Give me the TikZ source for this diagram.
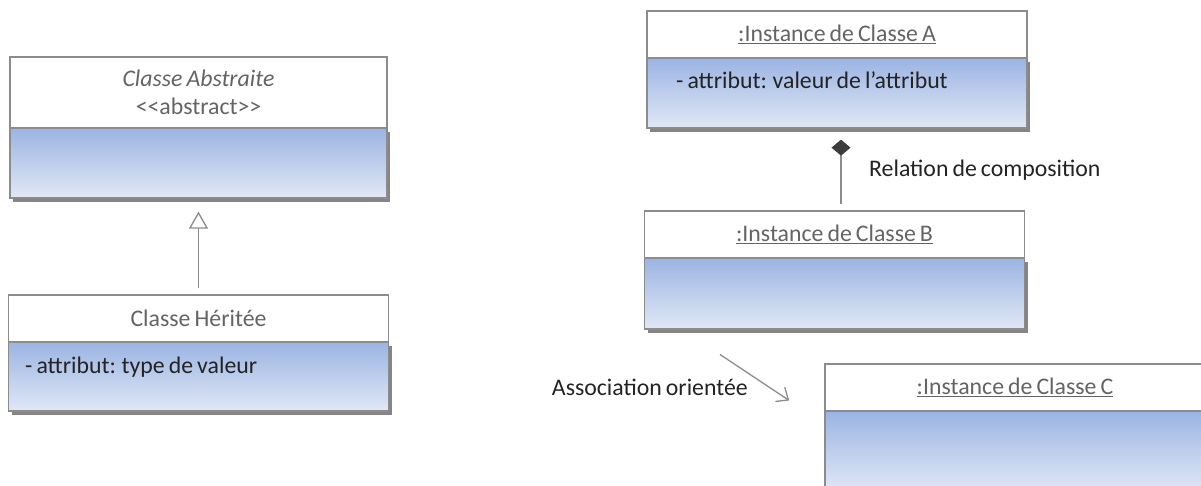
\documentclass[tikz,border=0pt]{standalone}
\usepackage{fontspec}
\setmainfont[WordSpace=0.75]{Carlito}
\usetikzlibrary{shadows,arrows.meta}
\definecolor{umlborder}{RGB}{140,140,140}
\definecolor{umlline}{RGB}{140,140,140}
\definecolor{umlhead}{RGB}{100,100,100}
\definecolor{umltext}{RGB}{35,35,35}
\definecolor{umltop}{RGB}{155,180,227}
\definecolor{umlbot}{RGB}{225,232,246}
\definecolor{umldiam}{RGB}{60,60,60}

\begin{document}
\begin{tikzpicture}[x=1pt, y=-1pt, font=\fontsize{23.8}{28}\selectfont,
  head/.style = {rectangle, draw=umlborder, line width=1.3pt, fill=white, minimum width=380pt, minimum height=47pt, align=center, text=umlhead, inner sep=0pt},
  body/.style = {rectangle, draw=umlborder, line width=1.3pt, top color=umltop, bottom color=umlbot, minimum width=380pt, minimum height=70pt, inner sep=0pt, drop shadow={shadow xshift=3pt, shadow yshift=-3.5pt, opacity=0.6, fill=black!80}},
  attr/.style = {anchor=base west, text=umltext, inner sep=0pt},
  lien/.style = {draw=umlline, line width=1.3pt}]
        \useasboundingbox (0,0) rectangle (1201,485);
        \clip (0,0) rectangle (1201,485);

        % classes
        \draw (198.5, 163) node[body, minimum width=377pt] (abs-body) {};
        \draw (198.5, 92.5) node[head, minimum width=377pt, minimum height=71pt] (abs) {\textit{Classe Abstraite}\\<\kern0pt<abstract>\kern0pt>};
        \draw (198.5, 376.5) node[body, minimum height=69pt] (herite-body) {};
        \draw (198.5, 318.5) node[head] (herite) {Classe Héritée};
        \draw (25, 373) node[attr] (herite-attr) {- attribut: type de valeur};

        % instances
        \draw (837, 93) node[body] (a-body) {};
        \draw (837, 34.5) node[head] (a) {\underline{:Instance de Classe A}};
        \draw (676, 88) node[attr] (a-attr) {- attribut: valeur de l’attribut};
        \draw (834.5, 293.5) node[body, minimum height=71pt] (b-body) {};
        \draw (834.5, 234.5) node[head] (b) {\underline{:Instance de Classe B}};
        \draw (1015, 451) node[body, minimum height=80pt] (c-body) {};
        \draw (1015, 387.5) node[head] (c) {\underline{:Instance de Classe C}};

        % relations
        \draw[lien, -{Triangle[open, length=17pt, width=19pt, fill=white]}, shorten <=6pt, shorten >=13pt] (herite.north) -- (abs-body.south);
        \draw[lien, -{Diamond[length=16pt, width=19pt, fill=umldiam, color=umldiam]}, shorten <=6pt, shorten >=11pt] ([xshift=6.5pt]b.north) -- ([xshift=4pt]a-body.south);
        \draw[lien, -{Straight Barb[length=10pt, width=17pt]}, shorten <=44.8pt, shorten >=42.2pt] ([xshift=38.8pt]b-body.south west) -- ([yshift=-13.5pt]c-body.north west);

        \draw (869, 170) node[anchor=west, text=umltext, inner sep=0pt] (compo) {Relation de composition};
        \draw (748, 387) node[anchor=east, text=umltext, inner sep=0pt] (assoc) {Association orientée};
\end{tikzpicture}
\end{document}
